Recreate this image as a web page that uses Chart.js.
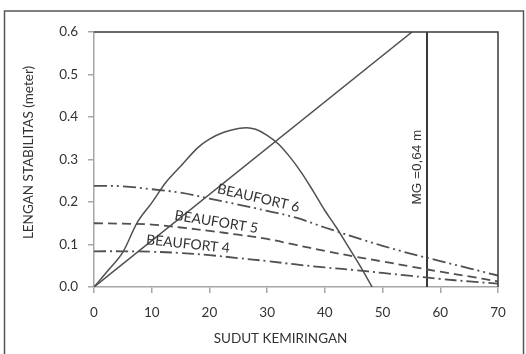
<!DOCTYPE html>
<html>
<head>
<meta charset="utf-8">
<script src="https://cdn.jsdelivr.net/npm/chart.js@4"></script>
<style>
  html, body { margin: 0; padding: 0; background: #fff; }
  #wrap { width: 526px; height: 354px; position: relative; }
</style>
</head>
<body>
<div id="wrap"><canvas id="c" width="526" height="354"></canvas></div>
<script>
// Heel angle (degrees) vs righting lever GZ (m)
const gzAngle = [0, 2.5, 5, 7.5, 10, 12.5, 15, 18, 20, 22.5, 25, 26.5, 28, 30, 32, 34, 36, 38, 40, 42, 44, 46, 48.2];
const gzValue = [0, 0.04, 0.082, 0.152, 0.198, 0.247, 0.284, 0.328, 0.348, 0.364, 0.373, 0.375, 0.371, 0.357, 0.336, 0.305, 0.268, 0.225, 0.18, 0.14, 0.096, 0.052, 0];

// Wind heeling lever curves
const windAngle = [0, 5, 10, 15, 20, 25, 30, 35, 40, 45, 50, 55, 60, 65, 70];
const beaufort6 = [0.238, 0.237, 0.23, 0.222, 0.208, 0.194, 0.179, 0.163, 0.14, 0.118, 0.097, 0.078, 0.061, 0.044, 0.027];
const beaufort5 = [0.15, 0.149, 0.147, 0.14, 0.132, 0.123, 0.113, 0.099, 0.085, 0.072, 0.06, 0.048, 0.036, 0.025, 0.013];
const beaufort4 = [0.084, 0.084, 0.083, 0.08, 0.075, 0.068, 0.061, 0.053, 0.046, 0.04, 0.033, 0.026, 0.019, 0.013, 0.008];

// Initial metacentric height line (MG tangent) and the 1-radian marker
const mgLineAngle = [0, 55.1];
const mgLineValue = [0, 0.6];
const radianAngle = [57.7, 57.7];
const radianValue = [0, 0.6];

const xTicks = [0, 10, 20, 30, 40, 50, 60, 70];
const yTicks = ['0.0', '0.1', '0.2', '0.3', '0.4', '0.5', '0.6'];

const xTitle = 'SUDUT KEMIRINGAN';
const yTitle = 'LENGAN STABILITAS (meter)';

const curveLabels = [
  { text: 'BEAUFORT 6', x: 28.5, y: 0.209, rot: 13 },
  { text: 'BEAUFORT 5', x: 21.2, y: 0.153, rot: 9 },
  { text: 'BEAUFORT 4', x: 16.3, y: 0.101, rot: 6 }
];
const mgLabel = { text: 'MG =0,64 m', x: 56.0, y: 0.282 };

const pts = (xs, ys) => xs.map((x, i) => ({ x: x, y: ys[i] }));
const FONT = 'Lato, "Open Sans", sans-serif';
const INK = '#333333';
const AXIS = '#a6a6a6';

const frame = {
  id: 'frame',
  afterDraw(chart) {
    const { ctx, chartArea: a, scales: { x, y } } = chart;
    ctx.save();
    // outer frame
    ctx.strokeStyle = '#555';
    ctx.lineWidth = 1.5;
    ctx.strokeRect(4.5, 11, 519, 360);
    // top and right edges of the plot box
    ctx.strokeStyle = '#3a3a3a';
    ctx.lineWidth = 1.5;
    ctx.beginPath();
    ctx.moveTo(a.left, a.top);
    ctx.lineTo(a.right, a.top);
    ctx.lineTo(a.right, a.bottom);
    ctx.stroke();

    ctx.fillStyle = INK;
    ctx.textAlign = 'center';
    ctx.textBaseline = 'middle';

    // axis titles
    ctx.font = '13.5px ' + FONT;
    ctx.fillText(xTitle, 280.5, 339);
    ctx.save();
    ctx.translate(29, 152.5);
    ctx.rotate(-Math.PI / 2);
    ctx.font = '13.5px ' + FONT;
    ctx.fillText(yTitle, 0, 0);
    ctx.restore();

    // curve labels
    ctx.font = '14px ' + FONT;
    curveLabels.forEach(l => {
      ctx.save();
      ctx.translate(x.getPixelForValue(l.x), y.getPixelForValue(l.y));
      ctx.rotate(l.rot * Math.PI / 180);
      ctx.fillText(l.text, 0, 0);
      ctx.restore();
    });
    ctx.save();
    ctx.font = '13.5px "Liberation Sans", Arial, sans-serif';
    ctx.translate(x.getPixelForValue(mgLabel.x), y.getPixelForValue(mgLabel.y));
    ctx.rotate(-Math.PI / 2);
    ctx.fillText(mgLabel.text, 0, 0);
    ctx.restore();
    ctx.restore();
  }
};

const lineDs = (data, opts) => Object.assign({
  data: data, showLine: true, pointRadius: 0, borderColor: '#505050',
  borderWidth: 1.5, fill: false, tension: 0.4
}, opts);

new Chart(document.getElementById('c'), {
  type: 'scatter',
  data: {
    datasets: [
      lineDs(pts(gzAngle, gzValue), { cubicInterpolationMode: 'monotone' }),
      lineDs(pts(mgLineAngle, mgLineValue), { tension: 0 }),
      lineDs(pts(windAngle, beaufort6), { borderDash: [13, 4, 2, 4, 2, 4], borderWidth: 1.8 }),
      lineDs(pts(windAngle, beaufort5), { borderDash: [9, 5], borderWidth: 1.8 }),
      lineDs(pts(windAngle, beaufort4), { borderDash: [12, 4, 2, 4], borderWidth: 1.8 }),
      lineDs(pts(radianAngle, radianValue), { tension: 0, borderColor: '#3a3a3a', borderWidth: 2 })
    ]
  },
  options: {
    responsive: false,
    animation: false,
    events: [],
    layout: { padding: { left: 0, top: 32, right: 28, bottom: 0 } },
    plugins: { legend: { display: false }, tooltip: { enabled: false } },
    scales: {
      x: {
        type: 'linear', min: 0, max: 70,
        afterBuildTicks(s) { s.ticks = xTicks.map(v => ({ value: v })); },
        afterFit(s) { s.height = 67; },
        ticks: { color: INK, font: { family: FONT, size: 13.5 }, padding: 12, maxRotation: 0 },
        grid: { drawOnChartArea: false, color: AXIS, tickLength: 6, lineWidth: 1.5 },
        border: { color: AXIS, width: 1.5 },
        title: { display: false }
      },
      y: {
        type: 'linear', min: 0, max: 0.6,
        afterBuildTicks(s) { s.ticks = yTicks.map(v => ({ value: parseFloat(v) })); },
        afterFit(s) { s.width = 94; },
        ticks: { color: INK, font: { family: FONT, size: 13.5 }, padding: 10,
          callback: (v) => yTicks[Math.round(v * 10)] },
        grid: { drawOnChartArea: false, color: AXIS, tickLength: 6, lineWidth: 1.5 },
        border: { color: AXIS, width: 1.5 },
        title: { display: false }
      }
    }
  },
  plugins: [frame]
});
</script>
</body>
</html>
